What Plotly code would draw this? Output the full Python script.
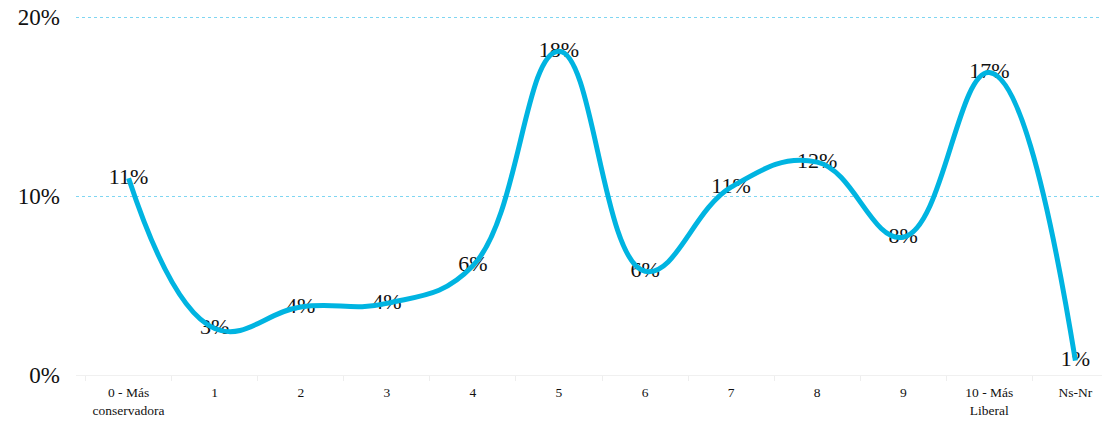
import plotly.graph_objects as go

categories = ["0 - Más<br>conservadora", "1", "2", "3", "4", "5", "6", "7", "8", "9",
              "10 - Más<br>Liberal", "Ns-Nr"]
values = [0.110, 0.026, 0.038, 0.040, 0.061, 0.181, 0.058, 0.105, 0.119, 0.077, 0.169, 0.008]
labels = ["11%", "3%", "4%", "4%", "6%", "18%", "6%", "11%", "12%", "8%", "17%", "1%"]

SERIF = "Liberation Serif, DejaVu Serif, serif"

fig = go.Figure()

# labels first so the line sits on top of them
fig.add_trace(go.Scatter(
    x=categories, y=values, mode="text", text=labels,
    textposition="middle center",
    textfont=dict(family=SERIF, size=22, color="#111111"),
    showlegend=False, hoverinfo="skip",
))
fig.add_trace(go.Scatter(
    x=categories, y=values, mode="lines",
    line=dict(color="#00B4E1", width=5, shape="spline", smoothing=1.2),
    showlegend=False,
))

fig.update_layout(
    width=1120, height=421,
    margin=dict(l=68, r=0, t=7, b=54),
    paper_bgcolor="white", plot_bgcolor="white",
    font=dict(family=SERIF, color="#111111"),
)
fig.update_xaxes(
    type="category", tickson="boundaries", ticks="outside", ticklen=5,
    tickcolor="#EEEEEE", showline=True, linecolor="#F0F0F0", linewidth=1,
    showgrid=False, ticklabelstandoff=5, automargin=False,
    tickfont=dict(size=13.5, family=SERIF),
)
fig.update_yaxes(
    range=[0, 0.2012], tickvals=[0, 0.1, 0.2], ticktext=["0%", "10%", "20%"],
    showgrid=True, gridcolor="#7FD6F2", griddash="dot", gridwidth=1,
    zeroline=False, showline=False, ticklabelstandoff=15,
    ticklabeloverflow="allow", automargin=False,
    tickfont=dict(size=23, family=SERIF),
)

fig.write_html("out.html")
